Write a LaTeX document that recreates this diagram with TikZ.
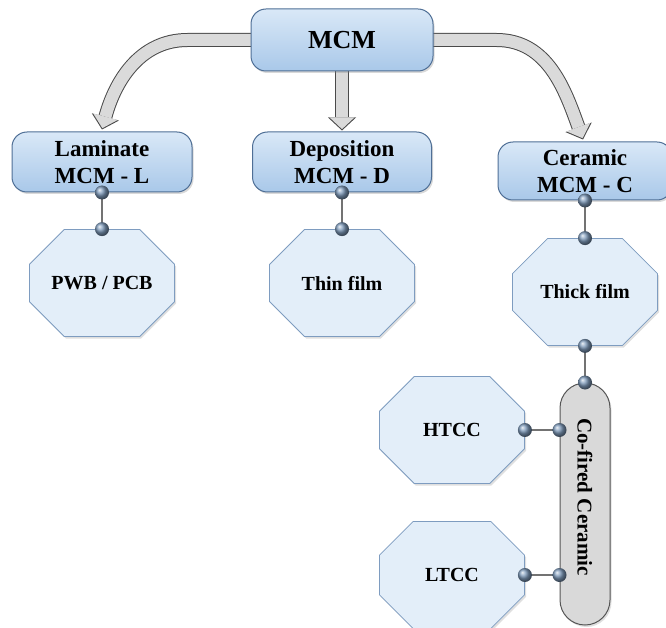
\documentclass[tikz,border=0pt]{standalone}
\usepackage{fontspec}
\setmainfont{Liberation Serif}
\usetikzlibrary{shapes.misc,arrows.meta,shadows,backgrounds}

\definecolor{boxtop}{HTML}{D9E8F7}
\definecolor{boxbot}{HTML}{A9C8E9}
\definecolor{boxline}{HTML}{4F6F96}
\definecolor{octfill}{HTML}{E3EEF9}
\definecolor{octline}{HTML}{7E9CC0}
\definecolor{capfill}{HTML}{D9D9D9}
\definecolor{capline}{HTML}{555555}
\definecolor{dotcol}{HTML}{7E9ABA}
\definecolor{arrfill}{HTML}{DADADA}
\definecolor{arrline}{HTML}{4A4A4A}

\tikzset{
  mcmbox/.style={draw=boxline, line width=1pt, rounded corners=15pt,
    top color=boxtop, bottom color=boxbot, align=center, inner sep=0pt,
    drop shadow={shadow xshift=1.5pt, shadow yshift=-2pt, opacity=0.3},
    font=\bfseries\fontsize{23}{27}\selectfont},
  octbox/.style={chamfered rectangle, chamfered rectangle xsep=36pt,
    chamfered rectangle ysep=28pt, draw=octline, fill=octfill, line width=0.8pt,
    minimum width=145pt, minimum height=107pt, inner sep=0pt,
    drop shadow={shadow xshift=1.5pt, shadow yshift=-2pt, opacity=0.25},
    font=\bfseries\fontsize{20}{23}\selectfont},
  capsule/.style={draw=capline, fill=capfill, line width=1pt, rounded corners=25pt,
    minimum width=50pt, minimum height=242pt, inner sep=0pt,
    drop shadow={shadow xshift=1.5pt, shadow yshift=-2pt, opacity=0.25},
    font=\bfseries\fontsize{21}{24}\selectfont},
  dot/.style={circle, inner sep=0pt, minimum size=14pt, ball color=dotcol},
  link/.style={draw=black!55, line width=1.5pt},
  fatarrow/.style={draw=arrline, line width=14pt,
    -{Triangle[width=28pt,length=13pt,line width=0pt]}},
  fatarrowin/.style={draw=arrfill, line width=12pt, shorten >=1.4pt,
    -{Triangle[width=25.2pt,length=11.8pt,line width=0pt]}}
}

\begin{document}
\begin{tikzpicture}[x=1pt, y=-1pt]
\def \colL {102}
\def \colD {342}
\def \colC {585}
\useasboundingbox (0,0) rectangle (666,628);

%top level
\node[mcmbox, minimum width=182pt, minimum height=62pt,
  font=\bfseries\fontsize{26}{28}\selectfont] (mcm) at (\colD,40) {MCM};

%MCM types
\node[mcmbox, minimum width=180pt, minimum height=60pt] (lam) at (\colL,162) {Laminate\\MCM - L};
\node[mcmbox, minimum width=179pt, minimum height=60pt] (dep) at (\colD,162) {Deposition\\MCM - D};
\node[mcmbox, minimum width=174pt, minimum height=58pt] (cer) at (\colC,171) {Ceramic\\MCM - C};

%technologies
\node[octbox] (pwb) at (\colL,283) {PWB / PCB};
\node[octbox] (thn) at (\colD,283) {Thin film};
\node[octbox] (thk) at (\colC,292) {Thick film};
\node[octbox] (hte) at (452,430) {HTCC};
\node[octbox] (lte) at (452,575) {LTCC};

%co-fired
\node[capsule] (cof) at (\colC,504) {\rotatebox{-90}{Co-fired Ceramic\hspace{14pt}}};

%big arrows
\coordinate (la) at ([xshift=12pt]mcm.west);
\coordinate (lb) at ([yshift=2pt]lam.north);
\coordinate (ma) at ([yshift=8pt]mcm.south);
\coordinate (mb) at ([yshift=1pt]dep.north);
\coordinate (ra) at ([xshift=-12pt]mcm.east);
\coordinate (rb) at ([xshift=-2pt,yshift=2pt]cer.north);
\begin{scope}[on background layer]
\foreach \s/\e/\o/\i/\run in {la/lb/180/75/-75, ma/mb/-90/90/0, ra/rb/0/110/75}{
  \draw[fatarrow] (\s) -- ++(\run,0) to[out=\o,in=\i] (\e);
  \draw[fatarrowin] (\s) -- ++(\run,0) to[out=\o,in=\i] (\e);
}
\end{scope}

%links
\foreach \a/\b in {lam.south/pwb.north, dep.south/thn.north, cer.south/thk.north,
  thk.south/cof.north, hte.east/cof.west |- hte.east, lte.east/cof.west |- lte.east}{
  \draw[link] (\a) -- (\b);
  \node[dot] at (\a) {};
  \node[dot] at (\b) {};
}

\end{tikzpicture}
\end{document}
